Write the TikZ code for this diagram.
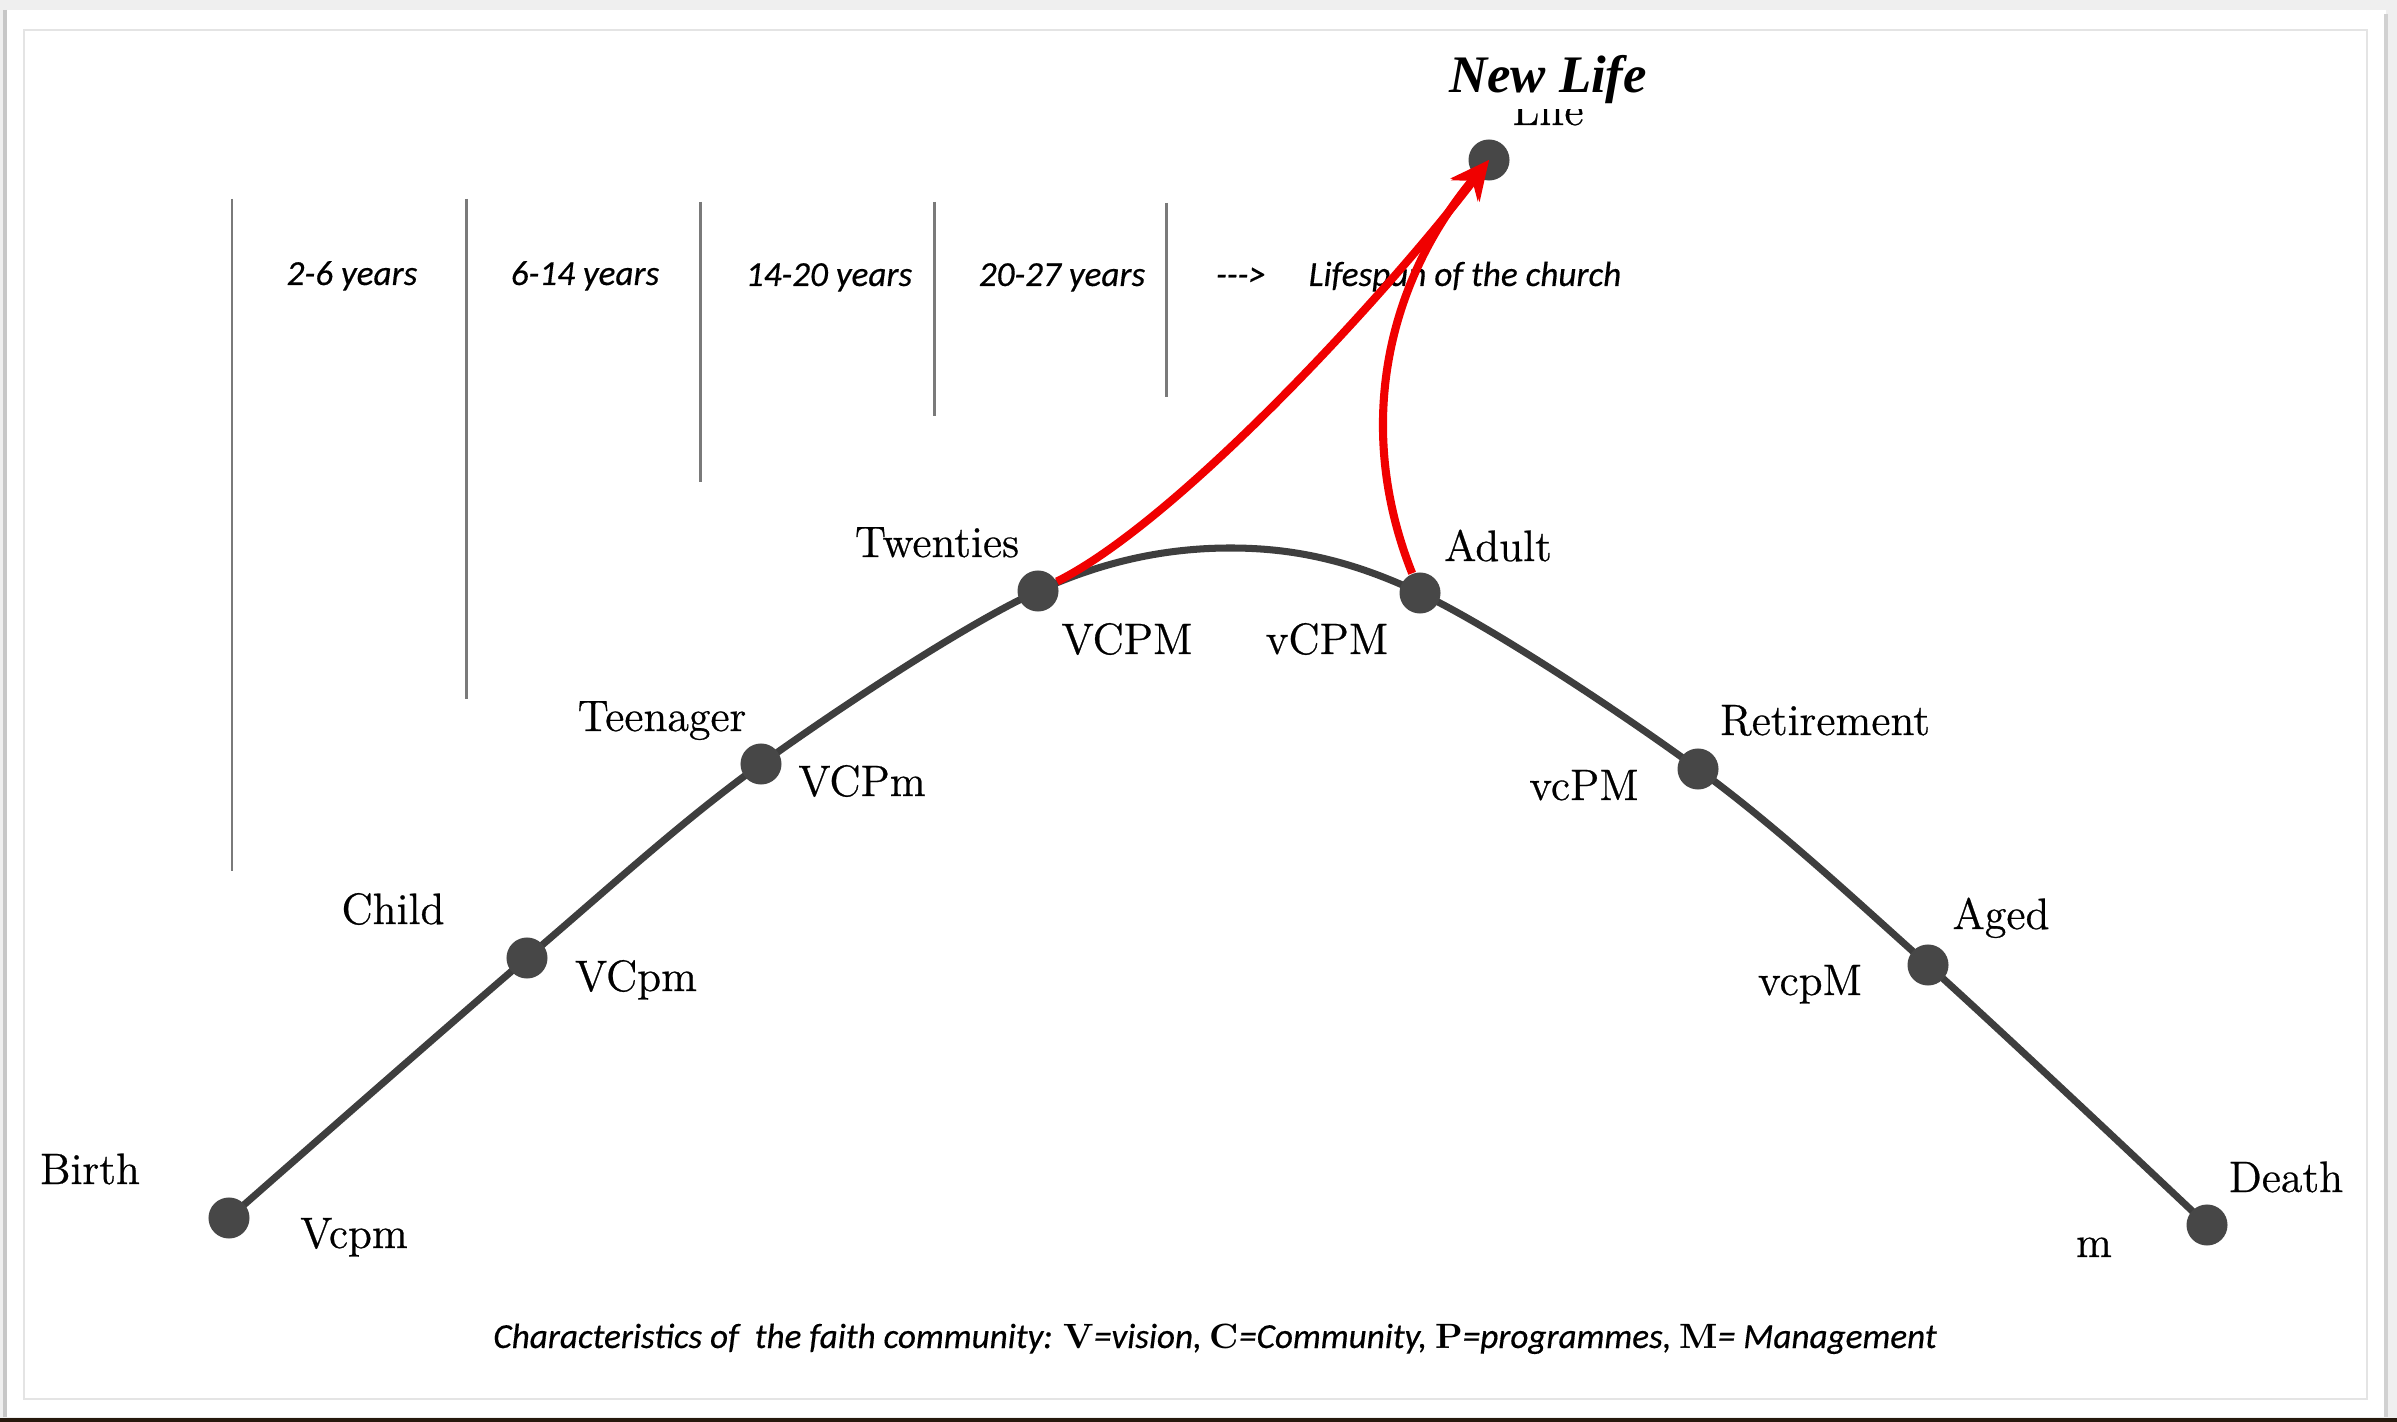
\documentclass[tikz,border=0pt]{standalone}
\usepackage{fontspec}
\newfontfamily\notefont{Carlito}[FakeBold=0.4]
\newfontfamily\stagefont{Latin Modern Roman}[FakeBold=0.6]
\newfontfamily\headfont{Liberation Serif}
\usetikzlibrary{arrows.meta}

\definecolor{curvegray}{HTML}{3E3E3E}
\definecolor{dotgray}{HTML}{474747}
\definecolor{rulegray}{HTML}{7A7A7A}
\definecolor{arrowred}{HTML}{F00000}
\definecolor{pagebg}{HTML}{EFEFEF}
\definecolor{framegray}{HTML}{E4E4E4}

\pgfdeclarelayer{canvas}
\pgfdeclarelayer{back}
\pgfsetlayers{canvas,back,main}

\newcommand\keyletter[1]{{\rmfamily\upshape\bfseries #1}}

\begin{document}
\begin{tikzpicture}[x=0.01cm, y=-0.01cm,
  dot/.style={circle, fill=dotgray, minimum size=0.41cm, inner sep=0pt},
  stage/.style={anchor=base, inner sep=0pt, font=\stagefont\fontsize{12.5}{15}\selectfont},
  yearlabel/.style={anchor=base, inner sep=0pt, font=\notefont\itshape\fontsize{10}{12}\selectfont},
  agerule/.style={draw=rulegray, line width=0.85pt},
  lifeline/.style={draw=curvegray, line width=2pt},
  renewal/.style={draw=arrowred, line width=2.3pt, -{Stealth[length=11pt,width=10pt]}},
]
\useasboundingbox (0,0) rectangle (2397,1422);

% page and frame
\begin{pgfonlayer}{canvas}
  \fill[pagebg] (0,0) rectangle (2397,1422);
  \fill[white] (5,10) rectangle (2386,1417);
  \draw[black!22, line width=1.2pt] (5,10) -- (5,1417);
  \draw[black!18, line width=1.2pt] (2386,14) -- (2386,1417);
  \draw[framegray, line width=0.5pt] (24,30) rectangle (2367,1399);
  \fill[black!80!brown] (0,1418) rectangle (2397,1422);
\end{pgfonlayer}

% age-band rules
\draw[agerule] (232,199) -- (232,871);
\draw[agerule] (466,199) -- (466,699);
\draw[agerule] (700,202) -- (700,482);
\draw[agerule] (934,202) -- (934,416);
\draw[agerule] (1166,203) -- (1166,397);

% age bands
\node[yearlabel] (y1) at (352,285) {2-6 years};
\node[yearlabel] (y2) at (585,285) {6-14 years};
\node[yearlabel] (y3) at (829,286) {14-20 years};
\node[yearlabel] (y4) at (1062,286) {20-27 years};
\node[yearlabel] (y5) at (1241,286) {{-}{-}{-}>};
\node[yearlabel, anchor=base west] (y6) at (1308,286) {Lifespan of the church};

% stages of life
\node[dot] (birth) at (229,1218) {};
\node[dot] (child) at (527,958) {};
\node[dot] (teen) at (761,764) {};
\node[dot] (twenties) at (1038,591) {};
\node[dot] (adult) at (1420,593) {};
\node[dot] (retire) at (1698,769) {};
\node[dot] (aged) at (1928,965) {};
\node[dot] (death) at (2207,1225) {};
\node[dot] (newlife) at (1489,160) {};
\coordinate (peak) at (1233,548);

\begin{pgfonlayer}{back}
  \draw[lifeline] plot[smooth, tension=0.55] coordinates
    {(birth.center) (child.center) (teen.center) (twenties.center) (peak)
     (adult.center) (retire.center) (aged.center) (death.center)};
\end{pgfonlayer}

% stage names and characteristics
\node[stage] (lbirth) at (90,1184) {Birth};
\node[stage] (cbirth) at (354,1248) {Vcpm};
\node[stage] (lchild) at (393,924) {Child};
\node[stage] (cchild) at (636,991) {VCpm};
\node[stage] (lteen) at (662,731) {Teenager};
\node[stage] (cteen) at (862,796) {VCPm};
\node[stage] (ltw) at (937,557) {Twenties};
\node[stage] (ctw) at (1127,654) {VCPM};
\node[stage] (cadult) at (1327,654) {vCPM};
\node[stage] (ladult) at (1498,561) {Adult};
\node[stage] (lretire) at (1825,735) {Retirement};
\node[stage] (cretire) at (1584,800) {vcPM};
\node[stage] (laged) at (2001,929) {Aged};
\node[stage] (caged) at (1810,995) {vcpM};
\node[stage] (ldeath) at (2286,1192) {Death};
\node[stage] (cdeath) at (2094,1257) {m};
\node[stage] (lold) at (1548,125) {Life};
\node[anchor=base, fill=white, inner sep=1.5pt,
      font=\headfont\bfseries\itshape\fontsize{15}{18}\selectfont] (title) at (1548,93) {New Life};

% renewal arrows
\draw[renewal] (twenties) .. controls (1180,520) and (1390,290) .. (newlife.center);
\draw[renewal] (adult) .. controls (1355,430) and (1385,285) .. (newlife.center);

% legend
\node[anchor=base, inner sep=0pt, font=\notefont\itshape\fontsize{10}{12}\selectfont] (legend) at (1215,1348)
  {Characteristics of\ \ the faith community: \keyletter{V}=vision, \keyletter{C}=Community, \keyletter{P}=programmes, \keyletter{M}= Management};
\end{tikzpicture}
\end{document}
